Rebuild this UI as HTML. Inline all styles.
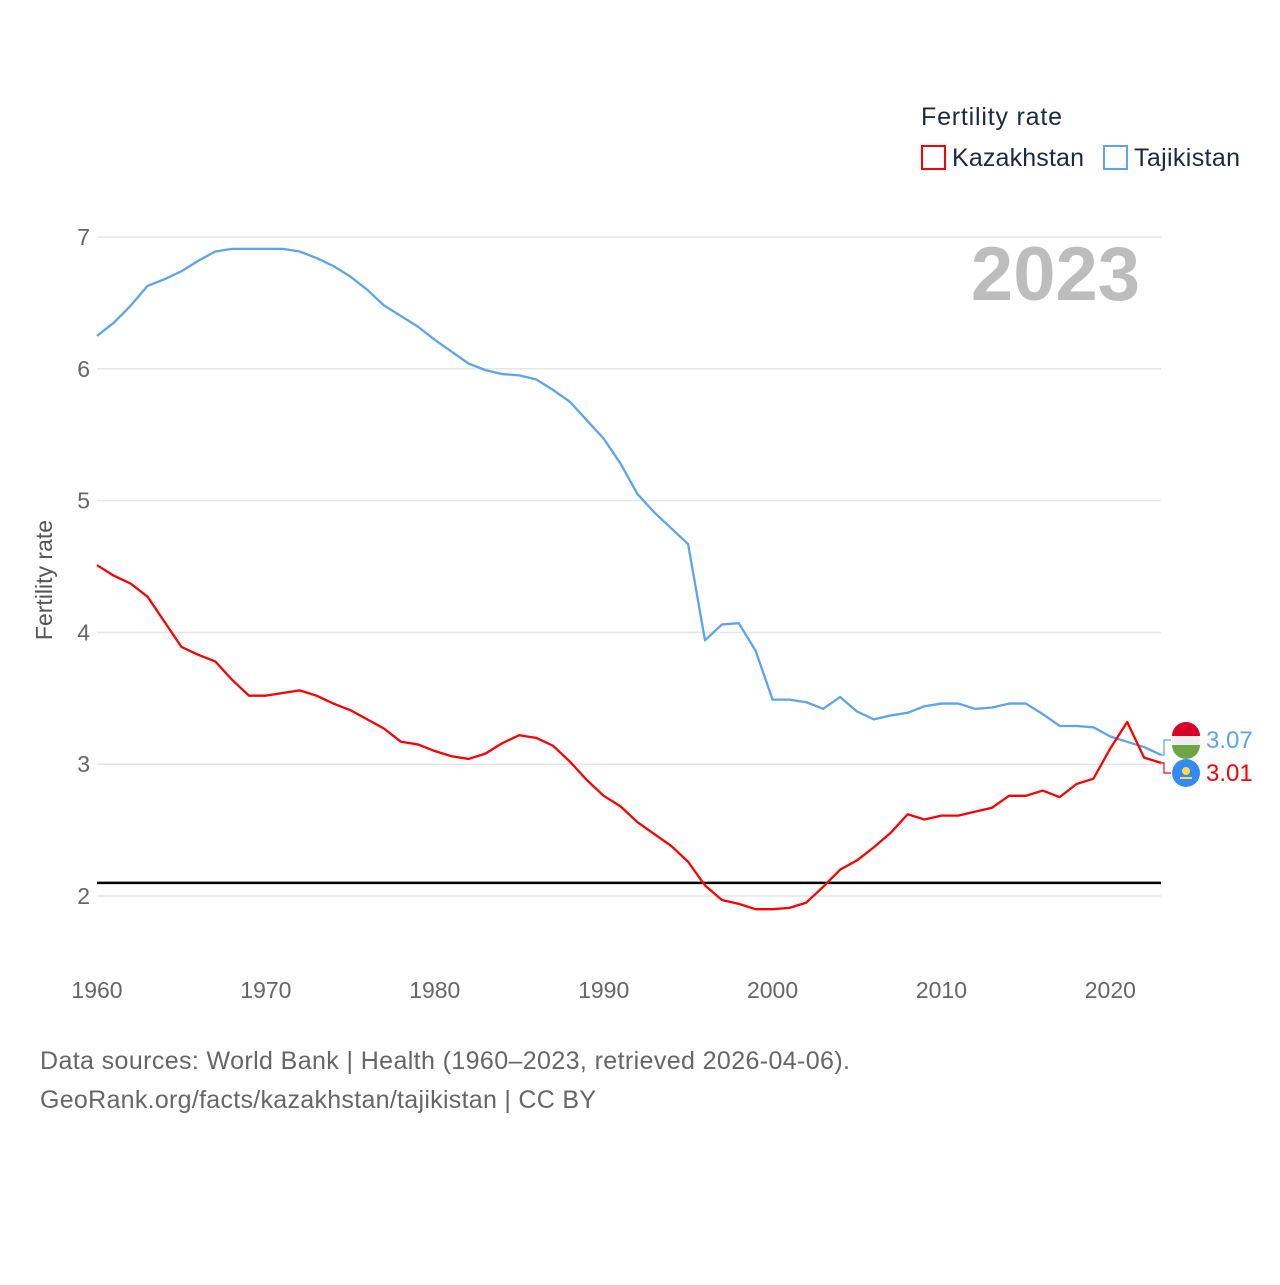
<!DOCTYPE html>
<html><head><meta charset="utf-8"><style>
body{margin:0;background:#fff;font-family:"Liberation Sans",sans-serif}
svg text{font-family:"Liberation Sans",sans-serif}
</style></head><body>
<svg width="1280" height="1280" viewBox="0 0 1280 1280">
<g id="grid"></g><g id="lines"></g>
<text x="921" y="125" font-size="25" fill="#1a2a44" textLength="141">Fertility rate</text>
<g><rect x="922" y="146" width="23" height="23" fill="none" stroke="#ff0000" stroke-width="2"/><text x="952" y="166" font-size="25" fill="#1a2a44" textLength="132">Kazakhstan</text></g>
<g><rect x="1104" y="146" width="23" height="23" fill="none" stroke="#5aa5ee" stroke-width="2"/><text x="1134" y="166" font-size="25" fill="#1a2a44" textLength="106">Tajikistan</text></g>
<text x="1140" y="300" font-size="76" font-weight="bold" fill="#bdbdbd" text-anchor="end">2023</text>
<text transform="translate(52,580) rotate(-90)" font-size="23" fill="#555" text-anchor="middle">Fertility rate</text>
<text x="40" y="1069" font-size="25" fill="#666" textLength="810">Data sources: World Bank | Health (1960–2023, retrieved 2026-04-06).</text>
<text x="40" y="1108" font-size="25" fill="#666" textLength="556">GeoRank.org/facts/kazakhstan/tajikistan | CC BY</text>
</svg>
<script>
const years=[];for(let y=1960;y<=2023;y++)years.push(y);
const tajikistan=[6.25,6.35,6.48,6.63,6.68,6.74,6.82,6.89,6.91,6.91,6.91,6.91,6.89,6.84,6.78,6.70,6.60,6.48,6.40,6.32,6.22,6.13,6.04,5.99,5.96,5.95,5.92,5.84,5.75,5.61,5.47,5.28,5.05,4.91,4.79,4.67,3.94,4.06,4.07,3.86,3.49,3.49,3.47,3.42,3.51,3.40,3.34,3.37,3.39,3.44,3.46,3.46,3.42,3.43,3.46,3.46,3.38,3.29,3.29,3.28,3.21,3.17,3.13,3.07];
const kazakhstan=[4.51,4.43,4.37,4.27,4.08,3.89,3.83,3.78,3.64,3.52,3.52,3.54,3.56,3.52,3.46,3.41,3.34,3.27,3.17,3.15,3.10,3.06,3.04,3.08,3.16,3.22,3.20,3.14,3.02,2.88,2.76,2.68,2.56,2.47,2.38,2.26,2.08,1.97,1.94,1.90,1.90,1.91,1.95,2.07,2.20,2.27,2.37,2.48,2.62,2.58,2.61,2.61,2.64,2.67,2.76,2.76,2.80,2.75,2.85,2.89,3.12,3.32,3.05,3.01];
const yTicks=[2,3,4,5,6,7];
const xTicks=[1960,1970,1980,1990,2000,2010,2020];
const replacement=2.1;
const NS="http://www.w3.org/2000/svg";
const X=y=>97+(y-1960)*(1161-97)/63;
const Y=v=>237+(7-v)*131.8;
function mk(t,a,p){const e=document.createElementNS(NS,t);for(const k in a)e.setAttribute(k,a[k]);p.appendChild(e);return e;}
const g=document.getElementById('grid'),L=document.getElementById('lines');
yTicks.forEach(v=>{
 const l=mk('line',{x1:97,x2:1161,y1:Y(v),y2:Y(v),stroke:'#e6e6e6','stroke-width':1.5},g);
 
 
 const t=mk('text',{x:90,y:Y(v)+8,'font-size':23,fill:'#666','text-anchor':'end'},g);t.textContent=v;
 
 
});
xTicks.forEach(v=>{
 const t=mk('text',{x:X(v),y:998,'font-size':23,fill:'#666','text-anchor':'middle'},g);t.textContent=v;
 
 
});
const ref=mk('line',{x1:97,x2:1161,y1:Y(replacement),y2:Y(replacement),stroke:'#000','stroke-width':2.5},L);


function path(d,c,name){
 const p=mk('polyline',{points:d.map((v,i)=>X(years[i])+','+Y(v)).join(' '),fill:'none',stroke:c,'stroke-width':2.3,'stroke-linejoin':'round'},L);
 
 
}
path(tajikistan,'#5aa5ee','tajikistan-line');
path(kazakhstan,'#ff0000','kazakhstan-line');
function endLabel(v,ly,c,txt,name,flag){
 const x=X(2023);
 mk('polyline',{points:`${x},${Y(v)} ${x+3},${Y(v)} ${x+3},${ly} ${x+10},${ly}`,fill:'none',stroke:c,'stroke-width':1.2},L);
 const fg=mk('g',{},L);
 
 
 flag(fg,1186,ly);
 const t=mk('text',{x:1206,y:ly+8,'font-size':24,fill:c},L);t.textContent=txt;
 
 
}
endLabel(tajikistan[63],740,'#5aa5ee',tajikistan[63].toFixed(2),'tajikistan',(p,cx,cy)=>{
 mk('circle',{cx,cy,r:14,fill:'#eee'},p);
 mk('path',{d:`M${cx-14},${cy-4} A14,14 0 0 1 ${cx+14},${cy-4} Z`,fill:'#d80027'},p);
 mk('path',{d:`M${cx-14},${cy+5} A14,14 0 0 0 ${cx+14},${cy+5} Z`,fill:'#6da544'},p);
});
endLabel(kazakhstan[63],773,'#ff0000',kazakhstan[63].toFixed(2),'kazakhstan',(p,cx,cy)=>{
 mk('circle',{cx,cy,r:14,fill:'#338af3'},p);
 mk('circle',{cx,cy:cy-2,r:4,fill:'#ffda44'},p);
 mk('rect',{x:cx-6,y:cy+4,width:12,height:2,fill:'#ffda44'},p);
});
</script>
</body></html>
